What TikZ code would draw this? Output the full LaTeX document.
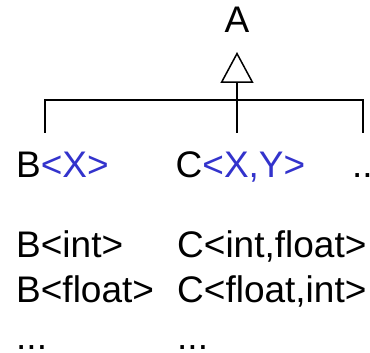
\documentclass[tikz,border=0pt]{standalone}
\usepackage{fontspec}
\setmainfont{Liberation Sans}
\usetikzlibrary{arrows.meta}
\definecolor{tparam}{RGB}{51,51,204}
\begin{document}
\begin{tikzpicture}[x=1pt,y=-1pt,
  lbl/.style={inner sep=0pt,anchor=base west,font=\fontsize{37}{44}\selectfont},
  conn/.style={line width=1.5pt},
  inherit/.style={conn,-{Triangle[open,length=31pt,width=33pt]}}]
\useasboundingbox (0,0) rectangle (370,353);
\node[lbl,anchor=base] (A) at (237,33) {A};
\coordinate (apex) at (237,52);
\coordinate (hub) at (237,100);
\coordinate (barL) at (45,100);
\coordinate (barR) at (363,100);
\coordinate (endB) at (45,133);
\coordinate (endC) at (237,133);
\coordinate (endD) at (363,133);
\node[lbl] (B) at (16,177) {B\textcolor{tparam}{<X>}};
\node[lbl] (C) at (175.5,177) {C\textcolor{tparam}{<X,Y>}};
\node[lbl] (D) at (352,177) {...};
\node[lbl] (B1) at (16,257) {B<int>};
\node[lbl] (C1) at (177,257) {C<int,float>};
\node[lbl] (B2) at (16,302) {B<float>};
\node[lbl] (C2) at (177,302) {C<float,int>};
\node[lbl] (B3) at (16,349) {...};
\node[lbl] (C3) at (177,349) {...};
\draw[conn] (endB) -- (barL) -- (barR) -- (endD);
\draw[inherit] (endC) -- (apex);
\end{tikzpicture}
\end{document}
